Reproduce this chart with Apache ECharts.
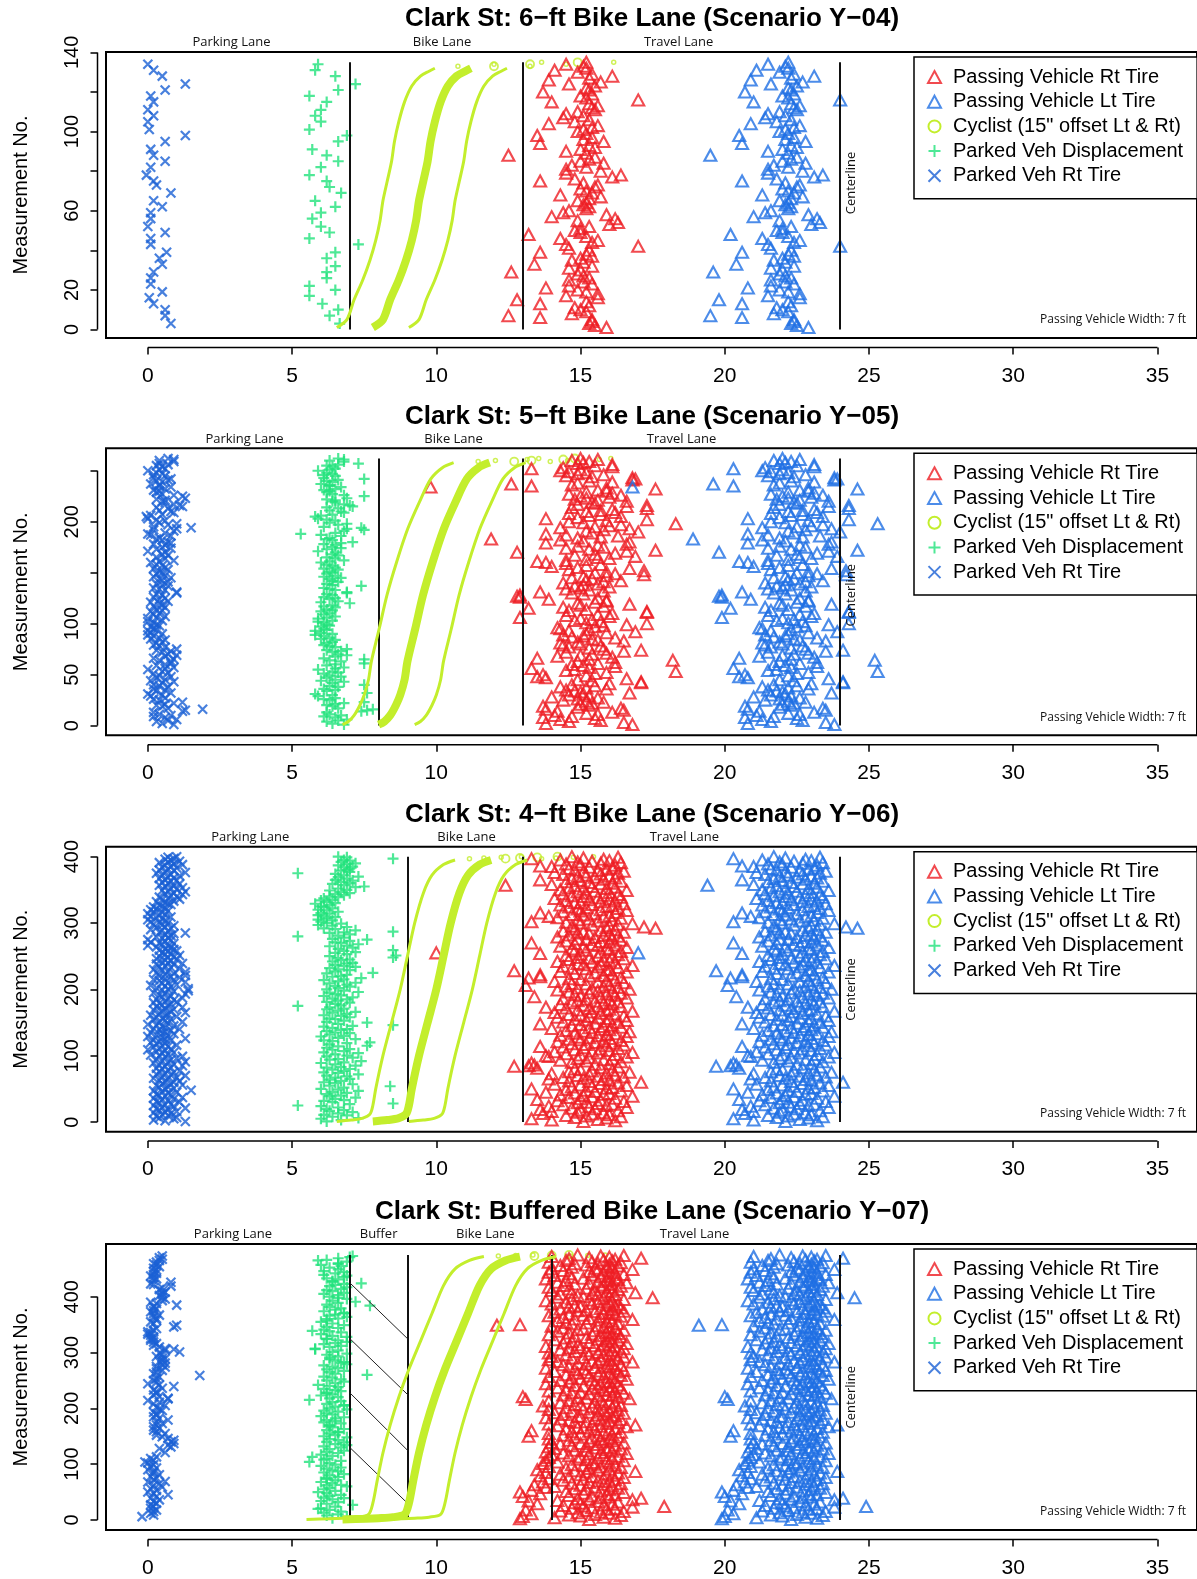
<!DOCTYPE html>
<html>
<head>
<meta charset="utf-8">
<script src="https://cdn.jsdelivr.net/npm/echarts@6/dist/echarts.min.js"></script>
<style>
  html, body { margin: 0; padding: 0; background: #fff; }
  #chart { width: 1197px; height: 1579px; }
</style>
</head>
<body>
<div id="chart"></div>
<script>
const _ = null;

// ---------- shared ticks ----------
const xTicks = [0, 5, 10, 15, 20, 25, 30, 35];

// ---------- Panel 1: 6-ft bike lane (Y-04), one value per measurement no. ----------
const rt1 = [
  15.9,15.5,15.3,15.4,15.4,13.6,12.5,14.7,15.2,15.0,14.8,15.3,13.6,15.2,12.8,
  15.6,14.5,15.6,15.2,14.9,13.8,14.6,15.4,15.1,14.6,15.3,15.1,14.9,12.6,15.0,
  14.6,15.4,13.4,15.1,14.7,15.0,15.4,15.2,13.6,15.3,14.6,17.0,14.5,15.4,15.6,
  14.3,15.2,13.2,15.0,14.8,15.0,15.3,16.0,16.3,14.9,16.2,14.0,15.9,14.4,14.6,
  15.2,15.3,15.1,15.2,14.9,15.3,15.7,14.3,15.4,15.2,15.0,15.5,15.6,15.1,13.6,
  14.8,16.1,16.4,14.5,15.7,14.5,15.2,14.7,15.8,15.0,15.3,15.5,12.5,15.2,14.5,
  15.0,15.5,15.3,13.6,15.8,15.1,15.4,13.5,15.2,14.9,15.1,15.4,15.6,13.9,14.8,
  15.3,14.4,15.1,14.5,14.9,15.5,15.4,15.6,15.3,14.0,17.0,15.2,15.0,15.4,13.7,
  15.3,15.2,15.5,14.6,15.7,13.9,15.3,16.1,15.4,14.9,14.1,15.2,15.1,14.5,15.2
];
const lt1 = [
  22.9,22.5,22.3,22.4,22.4,20.6,19.5,21.7,22.2,22.0,21.8,22.3,20.6,22.2,19.8,
  22.6,21.5,22.6,22.2,21.9,20.8,21.6,22.4,22.1,21.6,22.3,22.1,21.9,19.6,22.0,
  21.6,22.4,20.4,22.1,21.7,22.0,22.4,22.2,20.6,22.3,21.6,24.0,21.5,22.4,22.6,
  21.3,22.2,20.2,22.0,21.8,22.0,22.3,23.0,23.3,21.9,23.2,21.0,22.9,21.4,21.6,
  22.2,22.3,22.1,22.2,21.9,22.3,22.7,21.3,22.4,22.2,22.0,22.5,22.6,22.1,20.6,
  21.8,23.1,23.4,21.5,22.7,21.5,22.2,21.7,22.8,22.0,22.3,22.5,19.5,22.2,21.5,
  22.0,22.5,22.3,20.6,22.8,22.1,22.4,20.5,22.2,21.9,22.1,22.4,22.6,20.9,21.8,
  22.3,21.4,22.1,21.5,21.9,22.5,22.4,22.6,22.3,21.0,24.0,22.2,22.0,22.4,20.7,
  22.3,22.2,22.5,21.6,22.7,20.9,22.3,23.1,22.4,21.9,21.1,22.2,22.1,21.5,22.2
];
const park1 = [
  _,_,0.8,_,_,_,0.6,_,_,0.6,_,_,0.2,_,_,
  0.05,_,_,0.5,_,_,_,0.1,_,_,0.1,_,_,0.2,_,
  _,_,0.5,_,_,0.4,_,_,0.65,_,_,_,0.1,_,_,
  0.1,_,_,0.6,_,_,0.0,_,_,_,0.1,_,_,0.1,_,
  _,0.5,_,_,0.2,_,_,_,0.8,_,_,_,0.3,_,0.2,
  _,_,-0.05,_,_,_,0.1,_,_,0.6,_,_,0.2,_,_,
  0.1,_,_,_,0.6,_,_,1.3,_,_,0.05,_,_,_,0.0,
  _,_,0.2,_,_,0.0,_,_,_,0.2,_,_,0.1,_,_,
  0.6,_,_,1.3,_,_,_,0.5,_,_,0.2,_,_,0.0,_
];
const disp1 = [
  _,_,6.65,_,_,_,6.3,_,_,6.6,_,_,6.05,_,_,
  _,5.6,_,_,6.5,_,5.6,_,_,_,6.2,_,_,6.2,_,
  _,6.5,_,_,_,6.2,_,_,6.5,_,_,_,7.3,_,_,
  5.6,_,_,6.3,_,_,6.0,_,_,_,5.7,_,_,6.0,_,
  _,6.5,_,_,5.8,_,_,_,6.7,_,_,6.3,_,_,6.2,
  _,_,5.6,_,_,_,6.0,_,_,6.6,_,_,6.2,_,_,
  5.7,_,_,_,6.6,_,_,6.9,_,_,5.6,_,_,_,6.0,
  _,_,5.8,_,_,6.0,_,_,_,6.2,_,_,5.6,_,_,
  6.6,_,_,7.2,_,_,_,6.5,_,_,5.8,_,_,5.9,_
];
// cyclist path [ft, measurement no.] and its 15" offsets
const cycC1 = [[7.8,1],[8.15,5],[8.4,15],[8.7,25],[8.95,35],[9.15,45],[9.3,55],[9.4,65],[9.55,75],[9.7,85],[9.8,95],[9.95,105],[10.15,115],[10.4,123],[10.7,128],[11.0,130.5],[11.2,132]];
const cycL1 = [[6.55,1],[6.9,5],[7.15,15],[7.45,25],[7.7,35],[7.9,45],[8.05,55],[8.15,65],[8.3,75],[8.45,85],[8.55,95],[8.7,105],[8.9,115],[9.15,123],[9.45,128],[9.75,130.5],[9.95,132]];
const cycR1 = [[9.05,1],[9.4,5],[9.65,15],[9.95,25],[10.2,35],[10.4,45],[10.55,55],[10.65,65],[10.8,75],[10.95,85],[11.05,95],[11.2,105],[11.4,115],[11.65,123],[11.95,128],[12.25,130.5],[12.45,132]];
const tipC1 = [[12.0,133],[13.25,134],[14.9,135]];
const tipO1 = [[10.75,133],[12.0,134],[13.65,135],[13.25,133],[14.5,134],[16.15,135]];
const lanes1 = [7, 13, 24];
const laneText1 = [['Parking Lane', 2.9], ['Bike Lane', 10.2], ['Travel Lane', 18.4]];
const yTicks1 = [0, 20, 40, 60, 80, 100, 120, 140];
const yLabels1 = [0, 20, 60, 100, 140];

// ---------- Panel 2: 5-ft bike lane (Y-05) ----------
const rt2 = [
  16.8,13.8,16.5,14.6,15.7,14.3,15.5,13.7,14.7,14.1,
  15.6,15.2,16.1,14.2,16.5,13.8,16.4,14.9,13.7,15.3,
  15.0,15.4,15.8,15.2,14.4,14.9,15.6,14.0,15.3,14.6,
  15.1,16.7,15.0,14.8,14.5,15.9,15.2,14.3,15.5,14.7,
  16.0,17.1,17.1,15.4,14.9,16.6,13.8,13.5,15.2,13.7,
  15.5,15.9,18.3,14.5,14.8,13.3,15.3,16.2,15.1,14.7,
  15.6,16.2,14.9,18.2,15.3,13.5,16.1,14.2,15.0,15.4,
  15.9,14.5,16.5,17.1,15.8,15.3,14.6,15.7,14.4,15.0,
  14.3,14.9,16.5,15.6,15.4,16.2,14.7,15.1,14.4,15.2,
  15.9,16.9,14.6,15.3,14.3,14.2,15.5,15.8,16.6,17.3,
  15.2,15.7,14.8,15.4,15.0,12.9,16.0,14.5,15.6,16.1,
  17.3,17.3,14.6,15.2,13.2,14.4,15.8,15.0,16.7,14.9,
  15.5,15.9,15.9,13.9,15.6,12.9,12.8,12.9,15.1,14.7,
  13.6,15.8,15.3,14.5,15.0,16.0,14.8,15.1,15.6,14.4,
  15.8,16.4,15.2,15.4,14.7,15.1,15.9,17.2,16.2,15.5,
  15.9,17.2,14.6,16.7,14.9,14.0,15.2,15.7,14.5,13.8,
  13.5,14.5,15.2,16.0,15.6,16.9,14.8,15.5,16.2,12.8,
  16.6,17.6,15.3,14.5,15.8,14.9,15.6,16.6,13.8,16.7,
  15.1,14.3,11.9,14.9,15.7,16.3,14.5,13.8,15.4,17.0,
  15.2,15.8,16.7,14.3,15.5,16.0,16.4,18.3,15.1,14.6,
  15.9,17.3,13.8,14.9,16.4,15.3,15.7,14.6,16.2,15.2,
  15.7,16.1,17.3,14.7,16.6,17.3,14.9,15.5,15.4,16.6,
  15.6,14.8,15.2,16.0,15.0,16.4,14.6,16.1,15.2,15.9,
  15.6,17.6,15.9,9.8,13.3,14.7,12.6,14.9,16.1,15.3,
  16.8,16.9,16.8,15.4,14.5,15.8,14.9,15.2,14.6,14.3,
  15.0,13.3,14.4,16.1,15.5,16.1,14.9,15.1,15.3,14.7,15.6,15.0
];
const lt2 = [
  23.8,20.8,23.5,21.6,22.7,21.3,22.5,20.7,21.7,21.1,
  22.6,22.2,23.1,21.2,23.5,20.8,23.4,21.9,20.7,22.3,
  22.0,22.4,22.8,22.2,21.4,21.9,22.6,21.0,22.3,21.6,
  22.1,23.7,22.0,21.8,21.5,22.9,22.2,21.3,22.5,21.7,
  23.0,24.1,24.1,22.4,21.9,23.6,20.8,20.5,22.2,20.7,
  22.5,22.9,25.3,21.5,21.8,20.3,22.3,23.2,22.1,21.7,
  22.6,23.2,21.9,25.2,22.3,20.5,23.1,21.2,22.0,22.4,
  22.9,21.5,23.5,24.1,22.8,22.3,21.6,22.7,21.4,22.0,
  21.3,21.9,23.5,22.6,22.4,23.2,21.7,22.1,21.4,22.2,
  22.9,23.9,21.6,22.3,21.3,21.2,22.5,22.8,23.6,24.3,
  22.2,22.7,21.8,22.4,22.0,19.9,23.0,21.5,22.6,23.1,
  24.3,24.3,21.6,22.2,20.2,21.4,22.8,22.0,23.7,21.9,
  22.5,22.9,22.9,20.9,22.6,19.9,19.8,19.9,22.1,21.7,
  20.6,22.8,22.3,21.5,22.0,23.0,21.8,22.1,22.6,21.4,
  22.8,23.4,22.2,22.4,21.7,22.1,22.9,24.2,23.2,22.5,
  22.9,24.2,21.6,23.7,21.9,21.0,22.2,22.7,21.5,20.8,
  20.5,21.5,22.2,23.0,22.6,23.9,21.8,22.5,23.2,19.8,
  23.6,24.6,22.3,21.5,22.8,21.9,22.6,23.6,20.8,23.7,
  22.1,21.3,18.9,21.9,22.7,23.3,21.5,20.8,22.4,24.0,
  22.2,22.8,23.7,21.3,22.5,23.0,23.4,25.3,22.1,21.6,
  22.9,24.3,20.8,21.9,23.4,22.3,22.7,21.6,23.2,22.2,
  22.7,23.1,24.3,21.7,23.6,24.3,21.9,22.5,22.4,23.6,
  22.6,21.8,22.2,23.0,22.0,23.4,21.6,23.1,22.2,22.9,
  22.6,24.6,22.9,16.8,20.3,21.7,19.6,21.9,23.1,22.3,
  23.8,23.9,23.8,22.4,21.5,22.8,21.9,22.2,21.6,21.3,
  22.0,20.3,21.4,23.1,22.5,23.1,21.9,22.1,22.3,21.7,22.6,22.0
];
const park2 = [
  0.9,0.5,_,0.3,0.7,1.0,_,0.6,0.2,0.8,
  0.4,_,0.2,1.2,1.3,1.9,0.7,_,0.5,0.3,
  0.6,0.9,1.2,_,0.4,0.2,0.6,_,0.1,0.5,
  0.0,0.8,_,0.3,0.6,0.2,_,0.7,0.4,0.2,
  _,0.5,0.9,0.1,0.6,_,0.3,0.8,0.4,_,
  0.2,0.7,0.5,_,0.0,0.6,0.9,_,0.3,0.6,
  0.8,_,0.8,0.4,0.9,0.2,_,0.6,1.0,0.7,
  _,0.5,0.8,0.3,1.0,_,0.6,0.4,0.2,_,
  0.3,0.5,_,0.6,0.1,0.4,_,0.2,0.0,0.5,
  0.1,_,0.0,0.3,0.2,_,0.1,0.4,0.3,_,
  0.2,0.0,0.5,_,0.0,0.3,0.6,_,0.2,0.4,
  _,0.1,0.5,0.3,_,0.6,0.2,0.5,_,0.4,
  0.1,0.7,_,0.4,0.6,0.2,_,0.5,0.3,1.0,
  1.0,_,0.6,0.4,0.2,_,0.7,0.5,0.3,_,
  0.7,0.5,_,0.4,0.8,0.2,0.6,_,0.3,0.5,
  0.4,_,0.7,0.2,0.6,_,0.5,0.3,_,0.1,
  0.4,0.9,_,0.6,0.3,_,0.7,0.5,_,0.6,
  0.0,_,0.3,0.8,0.5,_,0.6,0.2,0.8,0.7,
  _,0.5,0.3,0.4,_,0.8,0.1,0.0,0.6,_,
  0.9,0.2,1.0,1.5,0.2,_,0.7,1.0,0.4,_,
  0.6,0.3,0.0,_,-0.05,0.1,0.5,_,0.9,0.8,
  0.4,_,0.7,0.3,1.2,1.1,0.9,_,0.6,0.5,
  0.6,0.3,1.3,_,1.2,0.9,0.5,_,0.3,0.4,
  0.2,0.6,_,0.8,0.4,0.4,0.1,_,0.5,0.3,
  0.7,0.8,0.2,_,0.6,0.2,0.5,0.3,_,0.0,
  0.4,0.6,_,0.5,0.3,0.7,0.4,_,0.9,0.4,0.9,0.7
];
const disp2 = [
  6.8,6.4,_,6.2,6.6,6.9,_,6.5,6.1,6.7,
  6.3,_,6.2,7.4,7.6,7.8,6.6,_,6.4,6.2,
  6.5,6.8,7.5,_,6.3,6.1,6.5,_,5.9,6.4,
  5.8,7.6,_,6.2,6.5,6.1,_,6.6,6.3,7.5,
  _,6.4,6.8,6.0,6.5,_,6.2,6.7,6.3,_,
  6.1,6.6,6.4,_,5.9,6.5,6.8,_,6.2,6.5,
  7.5,_,6.7,6.3,7.5,6.1,_,6.5,6.9,6.6,
  _,6.4,6.7,6.2,6.9,_,6.5,6.3,6.1,_,
  6.2,6.4,_,6.5,6.0,6.3,_,6.1,5.8,6.4,
  6.0,_,5.8,6.2,6.1,_,6.0,6.3,6.2,_,
  6.1,5.9,6.4,_,5.9,6.2,6.5,_,6.1,6.3,
  _,6.0,6.4,6.2,_,6.5,6.1,6.4,_,7.0,
  6.0,6.6,_,6.3,6.5,6.1,_,6.4,6.2,6.9,
  6.9,_,6.5,6.3,6.1,_,7.4,6.4,6.2,_,
  6.6,6.4,_,6.3,6.7,6.1,6.5,_,6.2,6.4,
  6.3,_,6.6,6.1,6.5,_,6.4,6.2,_,6.0,
  6.3,6.8,_,6.5,6.2,_,6.6,6.4,_,6.5,
  5.9,_,6.2,6.7,6.4,_,6.5,6.1,6.7,7.1,
  _,6.4,6.2,6.3,_,6.7,6.0,5.3,6.5,_,
  6.8,7.5,6.9,7.4,6.1,_,6.6,6.9,6.3,_,
  6.5,6.2,5.9,_,5.8,6.0,6.4,_,6.8,6.7,
  6.3,_,6.6,6.2,7.1,7.0,6.8,_,6.5,6.4,
  6.5,6.2,6.9,_,7.5,6.8,6.4,_,6.2,6.3,
  6.1,6.5,_,6.7,6.3,6.3,6.0,_,6.4,6.2,
  6.6,7.5,6.1,_,6.5,6.1,6.4,6.2,_,5.9,
  6.3,6.5,_,6.4,6.2,6.6,7.3,_,6.8,6.3,6.8,6.6
];
const cycC2 = [[8.0,1],[8.2,4],[8.4,10],[8.6,20],[8.75,30],[8.9,45],[9.0,63],[9.27,95],[9.54,128],[9.87,160],[10.26,193],[10.66,219],[11.06,242],[11.46,253],[11.85,258]];
const cycL2 = [[6.75,1],[6.95,4],[7.15,10],[7.35,20],[7.5,30],[7.65,45],[7.75,63],[8.02,95],[8.29,128],[8.62,160],[9.01,193],[9.41,219],[9.81,242],[10.21,253],[10.6,258]];
const cycR2 = [[9.25,1],[9.45,4],[9.65,10],[9.85,20],[10.0,30],[10.15,45],[10.25,63],[10.52,95],[10.79,128],[11.12,160],[11.51,193],[11.91,219],[12.31,242],[12.71,253],[13.1,258]];
const tipC2 = [[12.7,259],[13.3,260],[14.4,261],[14.8,262]];
const tipO2 = [[11.45,259],[12.05,260],[13.15,261],[13.55,262],[13.95,259],[14.55,260],[15.65,261],[16.05,262]];
const lanes2 = [8, 13, 24];
const laneText2 = [['Parking Lane', 3.35], ['Bike Lane', 10.6], ['Travel Lane', 18.5]];
const yTicks2 = [0, 50, 100, 150, 200, 250];
const yLabels2 = [0, 50, 100, 200];

// ---------- Panel 3: 4-ft bike lane (Y-06) ----------
const rt3 = [
  15.1,16.2,14.0,15.6,13.3,15.9,14.8,16.4,15.2,14.5,16.0,15.4,13.7,15.8,14.9,14.0,16.3,15.0,13.6,15.5,
  14.7,16.6,15.3,13.9,15.9,14.4,16.1,15.6,14.9,15.2,16.5,14.2,15.7,13.5,15.0,16.2,14.6,15.4,16.8,15.1,
  14.3,15.8,16.0,14.8,13.8,15.5,16.4,15.2,14.5,13.3,15.9,16.1,14.7,15.4,16.6,15.0,14.1,15.7,16.3,17.1,
  15.3,14.6,16.0,15.8,13.9,15.1,14.4,16.5,15.6,14.9,16.2,15.3,14.0,15.9,16.7,14.6,15.4,16.1,15.0,14.8,
  13.5,15.7,16.3,12.7,13.2,13.4,15.5,16.0,13.3,14.7,16.4,15.2,14.3,15.8,16.1,14.9,15.3,16.6,13.9,13.8,
  15.0,16.2,14.5,15.6,16.8,14.1,15.4,16.0,14.8,15.7,16.3,15.1,14.4,13.6,15.9,16.5,15.2,14.7,16.1,15.5,
  14.2,15.8,16.4,15.0,14.6,16.0,15.3,14.9,16.6,15.6,14.3,15.9,16.2,14.8,15.4,16.7,15.1,14.5,16.0,15.7,
  14.0,15.3,16.4,15.8,14.7,16.1,15.0,13.6,15.5,16.3,14.4,15.9,16.6,15.2,14.8,16.0,15.6,14.2,15.3,16.5,
  15.0,14.6,16.2,15.7,14.1,15.4,16.8,15.9,14.9,16.0,15.3,14.5,13.8,16.4,15.6,15.1,14.3,16.1,15.8,14.7,
  16.3,15.5,14.9,16.0,15.2,14.4,16.6,15.7,13.4,15.0,16.2,14.8,15.9,16.4,15.3,14.6,16.1,15.6,14.2,16.7,
  15.4,14.9,16.3,15.8,14.5,13.1,16.0,15.2,14.7,16.5,15.6,14.1,15.9,16.2,15.0,14.6,13.2,16.4,13.6,15.3,
  15.8,13.6,16.1,14.8,15.5,16.6,14.3,12.7,15.9,16.0,15.2,14.7,16.3,15.6,14.4,16.8,15.1,15.7,14.9,16.2,
  15.4,14.2,16.0,15.8,14.6,16.5,15.3,14.9,16.1,15.6,14.5,16.3,15.0,13.6,10.0,15.7,16.4,14.8,15.2,16.0,
  14.7,15.9,16.6,15.1,14.3,15.6,16.2,15.4,14.8,13.3,16.0,15.7,14.5,16.4,15.2,14.9,16.1,15.5,14.2,16.3,
  15.8,14.6,16.0,15.3,14.9,16.5,15.1,14.4,15.7,16.2,14.8,17.6,15.9,17.2,14.7,16.0,15.4,16.3,16.8,15.0,
  14.5,13.3,15.6,16.1,14.9,15.3,16.4,14.2,15.8,13.9,16.0,15.1,14.7,15.5,13.6,16.2,14.4,15.0,16.6,15.7,
  14.9,16.3,15.2,14.6,15.9,16.1,14.3,15.4,16.5,15.0,14.8,15.7,16.2,14.5,15.3,16.0,14.1,15.6,16.4,15.1,
  14.7,15.8,16.3,14.4,15.2,16.0,14.9,15.5,16.6,14.3,15.1,15.9,14.6,16.2,15.4,14.8,12.4,14.0,15.7,16.1,
  15.3,14.5,16.4,15.0,13.6,15.8,14.7,16.2,15.5,14.9,16.0,15.2,14.4,15.7,16.3,14.1,15.1,16.5,15.6,14.8,
  15.9,14.6,16.1,15.3,14.0,13.6,16.2,15.0,14.5,15.7,16.4,14.9,15.4,16.0,14.3,15.8,13.3,15.1,16.3,14.7
];
const lt3 = [
  22.1,23.2,21.0,22.6,20.3,22.9,21.8,23.4,22.2,21.5,23.0,22.4,20.7,22.8,21.9,21.0,23.3,22.0,20.6,22.5,
  21.7,23.6,22.3,20.9,22.9,21.4,23.1,22.6,21.9,22.2,23.5,21.2,22.7,20.5,22.0,23.2,21.6,22.4,23.8,22.1,
  21.3,22.8,23.0,21.8,20.8,22.5,23.4,22.2,21.5,20.3,22.9,23.1,21.7,22.4,23.6,22.0,21.1,22.7,23.3,24.1,
  22.3,21.6,23.0,22.8,20.9,22.1,21.4,23.5,22.6,21.9,23.2,22.3,21.0,22.9,23.7,21.6,22.4,23.1,22.0,21.8,
  20.5,22.7,23.3,19.7,20.2,20.4,22.5,23.0,20.3,21.7,23.4,22.2,21.3,22.8,23.1,21.9,22.3,23.6,20.9,20.8,
  22.0,23.2,21.5,22.6,23.8,21.1,22.4,23.0,21.8,22.7,23.3,22.1,21.4,20.6,22.9,23.5,22.2,21.7,23.1,22.5,
  21.2,22.8,23.4,22.0,21.6,23.0,22.3,21.9,23.6,22.6,21.3,22.9,23.2,21.8,22.4,23.7,22.1,21.5,23.0,22.7,
  21.0,22.3,23.4,22.8,21.7,23.1,22.0,20.6,22.5,23.3,21.4,22.9,23.6,22.2,21.8,23.0,22.6,21.2,22.3,23.5,
  22.0,21.6,23.2,22.7,21.1,22.4,23.8,22.9,21.9,23.0,22.3,21.5,20.8,23.4,22.6,22.1,21.3,23.1,22.8,21.7,
  23.3,22.5,21.9,23.0,22.2,21.4,23.6,22.7,20.4,22.0,23.2,21.8,22.9,23.4,22.3,21.6,23.1,22.6,21.2,23.7,
  22.4,21.9,23.3,22.8,21.5,20.1,23.0,22.2,21.7,23.5,22.6,21.1,22.9,23.2,22.0,21.6,20.2,23.4,20.6,22.3,
  22.8,20.6,23.1,21.8,22.5,23.6,21.3,19.7,22.9,23.0,22.2,21.7,23.3,22.6,21.4,23.8,22.1,22.7,21.9,23.2,
  22.4,21.2,23.0,22.8,21.6,23.5,22.3,21.9,23.1,22.6,21.5,23.3,22.0,20.6,17.0,22.7,23.4,21.8,22.2,23.0,
  21.7,22.9,23.6,22.1,21.3,22.6,23.2,22.4,21.8,20.3,23.0,22.7,21.5,23.4,22.2,21.9,23.1,22.5,21.2,23.3,
  22.8,21.6,23.0,22.3,21.9,23.5,22.1,21.4,22.7,23.2,21.8,24.6,22.9,24.2,21.7,23.0,22.4,23.3,23.8,22.0,
  21.5,20.3,22.6,23.1,21.9,22.3,23.4,21.2,22.8,20.9,23.0,22.1,21.7,22.5,20.6,23.2,21.4,22.0,23.6,22.7,
  21.9,23.3,22.2,21.6,22.9,23.1,21.3,22.4,23.5,22.0,21.8,22.7,23.2,21.5,22.3,23.0,21.1,22.6,23.4,22.1,
  21.7,22.8,23.3,21.4,22.2,23.0,21.9,22.5,23.6,21.3,22.1,22.9,21.6,23.2,22.4,21.8,19.4,21.0,22.7,23.1,
  22.3,21.5,23.4,22.0,20.6,22.8,21.7,23.2,22.5,21.9,23.0,22.2,21.4,22.7,23.3,21.1,22.1,23.5,22.6,21.8,
  22.9,21.6,23.1,22.3,21.0,20.6,23.2,22.0,21.5,22.7,23.4,21.9,22.4,23.0,21.3,22.8,20.3,22.1,23.3,21.7
];
const park3 = [
  1.3,0.6,0.2,_,0.9,0.4,1.0,_,0.3,0.7,0.5,_,0.8,0.2,0.6,1.0,_,0.4,0.7,0.3,
  1.3,0.5,_,0.9,0.2,0.6,0.8,_,0.4,1.1,0.3,0.7,_,0.5,0.9,0.2,1.2,_,0.6,0.4,
  0.8,0.3,_,0.7,1.0,0.5,0.2,1.5,_,0.6,0.9,0.4,0.7,_,0.3,1.2,0.8,0.5,_,0.9,
  0.6,1.1,0.4,_,0.7,0.2,1.0,0.5,_,1.3,0.8,0.3,0.6,_,0.9,0.4,1.1,0.7,_,0.5,
  0.3,0.8,_,0.6,1.2,0.4,0.9,_,0.2,0.7,1.3,0.5,_,0.8,0.3,1.0,_,0.6,1.2,0.4,
  0.1,0.7,_,0.5,0.9,0.3,_,0.6,0.0,0.8,0.4,_,0.2,0.7,0.5,1.0,_,0.3,0.6,0.1,
  0.4,_,0.8,0.2,0.6,1.3,_,0.5,0.0,0.7,0.3,_,0.9,0.5,0.1,0.6,_,0.8,0.4,1.1,
  0.2,0.6,_,0.5,0.9,0.3,0.0,_,0.7,0.4,1.2,_,0.6,0.2,0.8,0.5,_,0.3,1.0,0.6,
  0.1,_,0.7,0.4,1.3,0.8,_,0.5,0.2,0.9,0.6,_,1.2,0.3,0.7,0.5,_,0.8,0.4,0.2,
  1.0,0.6,_,0.9,0.3,0.7,1.2,_,0.5,0.8,0.4,_,1.3,0.6,0.2,_,0.9,1.4,0.5,0.7,
  1.4,0.3,_,0.8,0.6,0.1,1.0,_,0.5,0.7,1.3,_,0.4,0.9,0.2,0.6,_,1.1,0.8,0.4,
  1.3,0.6,_,0.9,0.3,1.3,0.7,_,0.5,0.2,1.1,_,0.8,0.4,0.6,_,0.9,0.3,1.2,0.7,
  0.5,_,0.8,0.6,1.0,0.3,_,0.7,0.9,0.4,1.1,_,0.6,0.8,0.5,_,0.7,1.0,0.4,0.9,
  0.6,_,0.8,0.3,0.7,0.0,_,0.5,0.9,0.4,0.1,_,0.6,0.8,0.0,_,0.5,0.7,0.3,_,
  0.8,0.6,_,0.9,1.3,0.4,_,0.7,0.5,0.1,_,0.8,0.3,0.6,_,0.9,0.5,0.2,_,0.7,
  0.4,0.1,_,0.6,0.0,0.5,_,0.3,0.8,0.1,_,0.4,0.6,0.0,_,0.5,0.2,0.7,_,0.1,
  0.3,_,0.6,0.2,0.5,_,0.4,0.8,0.7,_,0.6,0.3,0.9,_,0.5,1.1,0.7,_,0.4,1.0,
  0.8,_,1.2,0.6,0.9,_,1.3,0.7,0.5,_,1.0,0.8,1.2,_,0.6,0.9,0.4,_,1.1,0.7,
  0.5,_,0.8,1.0,0.6,_,0.4,0.9,0.7,_,1.1,0.5,0.8,_,0.3,1.3,0.6,_,0.9,0.4,
  0.7,_,1.0,0.5,0.8,_,0.6,1.2,0.9,_,0.4,0.7,1.1,_,0.8,0.6,0.9,_,0.7,1.0
];
const disp3 = [
  6.2,_,6.7,_,6.0,7.3,_,6.4,_,6.9,6.1,_,6.6,_,7.1,_,6.3,6.8,_,6.2,
  _,6.6,_,6.0,5.2,_,7.0,8.5,_,6.4,_,6.1,6.8,_,6.5,_,7.2,_,6.3,6.7,
  _,6.2,_,6.9,6.4,_,7.3,_,6.6,6.0,_,6.8,_,8.4,6.3,_,7.1,_,6.5,6.1,
  _,6.7,_,6.3,7.0,_,6.5,_,6.9,6.2,_,7.3,_,6.6,6.1,_,6.8,_,6.4,7.0,
  _,6.2,6.7,_,7.2,_,6.5,_,6.0,6.8,_,7.4,_,6.3,6.6,_,7.1,_,6.2,6.9,
  _,6.5,_,7.3,6.1,_,6.8,_,6.4,7.0,_,6.2,_,6.6,7.6,_,6.3,_,6.9,7.7,
  _,6.4,6.1,_,7.2,_,6.6,_,6.0,6.8,_,6.3,_,7.0,6.5,_,6.2,_,6.7,6.9,
  _,6.4,_,6.1,7.1,8.5,_,6.6,_,7.6,6.2,_,6.8,_,6.5,6.3,_,7.0,_,6.7,
  6.1,_,6.9,_,6.4,7.2,_,6.6,_,6.2,6.8,_,6.3,_,5.2,6.7,_,6.5,_,7.0,
  6.2,_,6.6,_,6.9,6.4,_,7.1,_,6.1,6.7,_,6.5,_,6.3,7.3,_,6.8,_,6.2,
  _,6.6,_,7.0,6.5,_,6.9,_,6.3,7.2,_,6.6,_,6.1,6.8,_,7.4,_,6.4,6.7,
  _,6.9,_,6.2,7.8,_,6.5,_,7.0,6.6,_,6.3,_,7.2,6.8,_,6.5,_,6.9,7.1,
  _,6.4,_,6.7,7.0,_,6.6,8.5,_,6.3,8.6,_,6.9,_,6.5,7.2,_,6.8,8.5,_,
  6.6,_,7.1,_,6.3,6.9,_,7.3,_,6.7,6.5,_,7.0,_,7.6,6.4,_,6.8,_,5.2,
  6.6,_,7.0,_,6.3,6.8,8.5,_,7.2,_,6.5,6.1,_,6.9,_,6.4,5.9,_,6.7,6.2,
  _,6.0,_,6.4,5.9,_,6.2,_,6.5,6.1,_,5.9,_,6.3,6.0,_,6.6,_,6.2,5.9,
  _,6.4,_,6.1,6.0,_,6.3,_,5.8,6.5,_,6.2,_,6.0,6.4,_,6.1,_,6.6,6.3,
  _,6.8,_,6.5,7.0,_,6.7,_,6.3,6.9,_,6.6,_,7.2,7.5,_,6.8,_,6.4,7.0,
  _,6.7,_,7.1,6.5,_,6.9,_,6.6,7.3,_,6.8,_,6.5,5.2,_,7.0,_,6.7,6.9,
  _,7.0,_,6.8,7.1,_,6.6,_,6.9,7.2,_,6.7,_,7.0,6.8,_,8.5,_,6.9,6.6
];
const cycC3 = [[7.8,1],[8.3,3],[8.7,6],[8.95,12],[9.05,25],[9.15,50],[9.4,100],[9.7,150],[10.0,200],[10.25,250],[10.5,300],[10.8,345],[11.1,372],[11.5,388],[11.9,395]];
const cycL3 = [[6.55,1],[7.05,3],[7.45,6],[7.7,12],[7.8,25],[7.9,50],[8.15,100],[8.45,150],[8.75,200],[9.0,250],[9.25,300],[9.55,345],[9.85,372],[10.25,388],[10.65,395]];
const cycR3 = [[9.05,1],[9.55,3],[9.95,6],[10.2,12],[10.3,25],[10.4,50],[10.65,100],[10.95,150],[11.25,200],[11.5,250],[11.75,300],[12.05,345],[12.35,372],[12.75,388],[13.15,395]];
const tipC3 = [[12.4,397],[12.9,398],[13.5,399],[14.2,400]];
const tipO3 = [[11.15,397],[11.65,398],[12.25,399],[12.95,400],[13.65,397],[14.15,398],[14.75,399],[15.45,400]];
const lanes3 = [9, 13, 24];
const laneText3 = [['Parking Lane', 3.55], ['Bike Lane', 11.05], ['Travel Lane', 18.6]];
const yTicks3 = [0, 100, 200, 300, 400];
const yLabels3 = [0, 100, 200, 300, 400];

// ---------- Panel 4: buffered bike lane (Y-07) ----------
const rt4 = [
  15.3,12.9,16.2,14.1,15.8,13.0,15.0,16.4,14.6,15.5,13.3,16.0,14.9,15.7,16.5,14.3,15.2,13.1,15.9,16.2,14.7,15.4,16.8,17.9,15.1,
  14.4,15.8,16.1,13.5,15.0,14.8,16.3,15.6,13.2,14.2,16.8,15.3,14.9,17.1,15.7,16.0,13.0,15.4,14.6,16.2,15.9,13.6,15.1,16.5,12.9,
  14.5,15.7,13.3,16.0,15.2,14.8,16.3,13.8,15.5,14.1,16.1,15.0,13.4,15.8,16.4,14.7,15.3,13.7,16.0,15.6,14.4,16.2,15.1,13.9,15.8,
  16.5,14.6,15.4,13.6,16.1,15.0,14.3,15.9,16.3,13.8,15.2,16.9,14.8,15.6,13.5,16.0,15.3,14.5,16.4,15.7,13.9,15.1,16.2,14.7,15.5,
  13.7,16.0,15.4,14.2,15.9,16.5,13.8,15.2,14.9,16.1,15.6,13.9,15.0,16.3,14.6,15.8,14.0,15.3,16.6,14.4,15.7,13.8,16.1,15.2,14.8,
  15.9,16.4,14.1,15.5,16.0,13.9,15.2,14.7,16.2,15.6,14.3,15.0,16.5,14.0,15.8,15.3,16.1,14.6,15.7,13.9,16.0,15.4,14.8,16.3,13.2,
  15.6,14.4,16.1,15.0,13.9,15.8,16.4,14.7,15.3,13.3,16.0,15.5,14.5,16.2,15.1,14.9,16.6,15.7,14.2,16.9,15.4,13.9,15.9,16.3,14.8,
  15.2,16.0,14.6,15.7,16.4,14.3,15.5,13.8,16.1,15.0,14.9,16.2,15.6,14.4,15.9,16.5,14.1,15.3,16.0,14.7,15.8,16.3,13.9,15.1,15.6,
  14.5,16.1,15.4,13.7,16.4,15.0,14.8,15.8,16.2,14.3,15.5,16.0,13.9,14.6,15.7,13.1,16.7,15.2,14.9,16.3,13.0,15.6,16.1,14.4,15.9,
  15.3,16.5,14.7,15.0,16.2,13.9,15.8,14.5,16.0,15.4,16.4,14.2,15.6,16.1,15.1,14.8,16.3,15.7,13.8,15.5,16.0,14.6,15.9,16.2,14.3,
  15.4,16.6,15.0,14.7,16.1,15.8,13.9,15.3,16.4,14.5,15.6,16.0,14.9,15.2,16.3,14.1,15.7,16.5,14.8,15.1,16.2,13.8,15.5,16.0,14.6,
  15.9,16.4,14.4,15.2,16.1,14.9,15.6,16.8,14.2,15.4,16.0,13.9,15.7,16.3,14.7,15.1,16.5,14.0,15.8,16.2,14.5,15.3,16.0,13.9,15.6,
  16.4,14.8,15.2,16.1,14.3,15.7,16.5,14.6,15.0,16.2,13.8,15.5,16.0,14.9,15.8,16.6,14.4,15.3,16.1,14.7,15.9,16.3,14.1,15.6,16.0,
  14.5,15.2,16.4,14.8,15.7,16.1,13.9,15.4,16.3,14.6,15.9,16.0,14.2,15.5,16.5,14.9,15.1,16.2,14.4,15.8,16.0,14.0,15.6,12.1,12.9,
  14.7,16.3,15.2,14.5,15.9,16.1,14.2,15.6,16.8,14.8,15.3,16.0,14.4,15.7,16.4,13.9,15.1,16.2,14.6,15.8,16.0,14.1,15.5,16.5,14.9,
  15.2,16.1,14.3,15.7,16.4,14.6,15.0,16.2,14.8,15.9,16.3,14.0,15.4,16.0,14.5,15.6,16.1,13.8,15.3,16.5,14.7,15.8,17.5,14.2,15.1,
  16.0,14.9,15.6,16.2,14.3,15.4,16.9,14.7,15.9,16.1,14.0,15.5,16.3,14.6,15.2,16.0,13.9,15.7,16.4,14.4,15.8,16.1,14.8,15.3,16.6,
  14.2,15.6,16.0,14.5,15.9,16.3,13.8,15.1,16.2,14.7,15.7,16.0,14.1,15.4,16.5,14.6,15.8,16.2,13.9,15.3,16.0,14.4,15.6,16.8,14.0,
  15.5,16.1,14.7,15.9,16.3,14.3,15.2,16.0,14.8,15.6,16.4,13.9,15.4,16.1,14.5,15.8,16.2,14.6,17.1,15.3,16.0,14.0,15.7,16.5,14.9
];
const lt4 = [
  22.3,19.9,23.2,21.1,22.8,20.0,22.0,23.4,21.6,22.5,20.3,23.0,21.9,22.7,23.5,21.3,22.2,20.1,22.9,23.2,21.7,22.4,23.8,24.9,22.1,
  21.4,22.8,23.1,20.5,22.0,21.8,23.3,22.6,20.2,21.2,23.8,22.3,21.9,24.1,22.7,23.0,20.0,22.4,21.6,23.2,22.9,20.6,22.1,23.5,19.9,
  21.5,22.7,20.3,23.0,22.2,21.8,23.3,20.8,22.5,21.1,23.1,22.0,20.4,22.8,23.4,21.7,22.3,20.7,23.0,22.6,21.4,23.2,22.1,20.9,22.8,
  23.5,21.6,22.4,20.6,23.1,22.0,21.3,22.9,23.3,20.8,22.2,23.9,21.8,22.6,20.5,23.0,22.3,21.5,23.4,22.7,20.9,22.1,23.2,21.7,22.5,
  20.7,23.0,22.4,21.2,22.9,23.5,20.8,22.2,21.9,23.1,22.6,20.9,22.0,23.3,21.6,22.8,21.0,22.3,23.6,21.4,22.7,20.8,23.1,22.2,21.8,
  22.9,23.4,21.1,22.5,23.0,20.9,22.2,21.7,23.2,22.6,21.3,22.0,23.5,21.0,22.8,22.3,23.1,21.6,22.7,20.9,23.0,22.4,21.8,23.3,20.2,
  22.6,21.4,23.1,22.0,20.9,22.8,23.4,21.7,22.3,20.3,23.0,22.5,21.5,23.2,22.1,21.9,23.6,22.7,21.2,23.9,22.4,20.9,22.9,23.3,21.8,
  22.2,23.0,21.6,22.7,23.4,21.3,22.5,20.8,23.1,22.0,21.9,23.2,22.6,21.4,22.9,23.5,21.1,22.3,23.0,21.7,22.8,23.3,20.9,22.1,22.6,
  21.5,23.1,22.4,20.7,23.4,22.0,21.8,22.8,23.2,21.3,22.5,23.0,20.9,21.6,22.7,20.1,23.7,22.2,21.9,23.3,20.0,22.6,23.1,21.4,22.9,
  22.3,23.5,21.7,22.0,23.2,20.9,22.8,21.5,23.0,22.4,23.4,21.2,22.6,23.1,22.1,21.8,23.3,22.7,20.8,22.5,23.0,21.6,22.9,23.2,21.3,
  22.4,23.6,22.0,21.7,23.1,22.8,20.9,22.3,23.4,21.5,22.6,23.0,21.9,22.2,23.3,21.1,22.7,23.5,21.8,22.1,23.2,20.8,22.5,23.0,21.6,
  22.9,23.4,21.4,22.2,23.1,21.9,22.6,23.8,21.2,22.4,23.0,20.9,22.7,23.3,21.7,22.1,23.5,21.0,22.8,23.2,21.5,22.3,23.0,20.9,22.6,
  23.4,21.8,22.2,23.1,21.3,22.7,23.5,21.6,22.0,23.2,20.8,22.5,23.0,21.9,22.8,23.6,21.4,22.3,23.1,21.7,22.9,23.3,21.1,22.6,23.0,
  21.5,22.2,23.4,21.8,22.7,23.1,20.9,22.4,23.3,21.6,22.9,23.0,21.2,22.5,23.5,21.9,22.1,23.2,21.4,22.8,23.0,21.0,22.6,19.1,19.9,
  21.7,23.3,22.2,21.5,22.9,23.1,21.2,22.6,23.8,21.8,22.3,23.0,21.4,22.7,23.4,20.9,22.1,23.2,21.6,22.8,23.0,21.1,22.5,23.5,21.9,
  22.2,23.1,21.3,22.7,23.4,21.6,22.0,23.2,21.8,22.9,23.3,21.0,22.4,23.0,21.5,22.6,23.1,20.8,22.3,23.5,21.7,22.8,24.5,21.2,22.1,
  23.0,21.9,22.6,23.2,21.3,22.4,23.9,21.7,22.9,23.1,21.0,22.5,23.3,21.6,22.2,23.0,20.9,22.7,23.4,21.4,22.8,23.1,21.8,22.3,23.6,
  21.2,22.6,23.0,21.5,22.9,23.3,20.8,22.1,23.2,21.7,22.7,23.0,21.1,22.4,23.5,21.6,22.8,23.2,20.9,22.3,23.0,21.4,22.6,23.8,21.0,
  22.5,23.1,21.7,22.9,23.3,21.3,22.2,23.0,21.8,22.6,23.4,20.9,22.4,23.1,21.5,22.8,23.2,21.6,24.1,22.3,23.0,21.0,22.7,23.5,21.9
];
const park4 = [
  _,_,_,_,_,-0.2,_,_,0.2,_,_,0.1,_,_,0.2,_,_,0.3,_,_,0.1,_,_,0.2,_,
  _,0.1,_,_,0.3,_,_,0.2,_,_,0.4,_,_,0.1,_,_,0.3,_,_,0.7,_,_,0.2,_,0.0,
  _,_,0.3,_,_,0.1,_,_,0.5,_,_,0.2,_,_,0.4,_,_,0.0,0.6,_,_,0.2,_,_,0.3,
  _,_,0.1,_,_,0.4,_,_,0.2,_,_,0.2,_,_,0.0,_,_,0.3,_,_,0.1,_,_,0.2,_,
  _,0.0,_,-0.1,_,_,0.2,_,_,0.1,_,_,0.3,_,_,_,_,_,_,_,0.6,_,_,_,_,
  _,_,0.4,_,_,0.8,_,_,0.7,_,_,0.9,_,_,0.8,_,_,0.9,_,_,0.7,_,_,0.5,_,
  _,0.3,_,_,0.6,_,_,0.3,_,_,0.2,_,_,0.4,_,_,0.2,_,_,0.3,_,_,0.5,_,_,
  0.3,_,_,0.7,_,_,0.4,_,_,0.2,_,_,0.3,_,0.3,_,_,0.2,_,_,0.5,_,_,0.4,_,
  _,0.3,_,_,0.6,_,_,0.2,_,_,0.4,_,_,0.0,_,_,0.7,0.7,_,_,0.4,_,_,0.2,_,
  _,0.3,_,_,0.3,_,_,0.2,_,_,0.5,_,_,0.9,_,_,0.4,_,0.0,_,_,0.3,_,_,0.2,
  _,_,0.3,_,_,0.4,_,_,1.8,_,_,0.2,_,_,0.3,_,_,0.5,_,_,0.3,_,_,0.6,0.3,
  _,_,0.5,_,_,0.6,_,_,0.4,_,0.5,_,_,0.6,0.5,_,_,0.3,_,_,0.5,_,_,0.4,_,
  1.1,_,_,0.6,_,0.9,0.6,_,_,0.4,_,_,0.2,_,_,0.3,_,_,0.2,_,_,0.1,_,0.2,0.1,
  _,_,0.2,_,_,0.1,_,0.0,_,_,0.1,0.0,_,_,0.2,_,_,0.3,_,_,0.9,_,_,1.0,_,
  _,0.2,_,_,0.1,_,_,0.3,_,_,0.3,_,_,0.2,_,_,0.4,_,_,0.2,_,_,0.1,_,0.2,
  _,_,0.3,_,_,0.2,_,0.2,_,1.0,_,_,0.3,_,0.1,_,_,0.5,_,_,0.6,_,_,0.5,_,
  _,0.4,_,_,0.5,_,_,0.6,_,0.5,_,_,0.4,_,_,0.5,_,_,0.8,_,_,0.2,0.1,_,_,
  0.8,_,_,0.2,_,_,0.3,_,0.2,_,_,0.1,_,_,0.2,_,0.3,_,_,0.2,_,_,0.3,_,_,
  0.2,_,_,0.4,_,_,0.3,_,0.2,_,_,0.3,_,_,0.4,_,0.5,_,_,0.4,_,_,0.5,_,_
];
const disp4 = [
  _,_,6.4,_,_,6.9,_,6.2,_,6.6,_,_,6.1,_,6.7,_,_,6.3,_,5.9,6.0,_,_,6.5,_,
  _,7.1,_,6.2,_,_,6.6,_,6.0,_,_,6.4,_,6.8,6.1,_,_,6.3,_,6.7,_,_,6.2,_,5.9,
  _,6.5,_,_,6.1,_,6.3,_,_,6.9,_,6.2,6.7,_,_,6.4,_,6.0,_,_,6.5,_,6.2,_,6.2,
  _,6.6,_,_,6.3,_,6.8,_,_,6.1,_,6.6,_,6.4,_,_,6.2,_,6.7,_,_,6.0,_,6.5,_,
  _,6.3,_,5.6,_,6.7,_,6.1,_,6.2,_,_,5.7,_,6.4,_,6.0,_,_,6.6,_,6.2,_,6.8,_,
  _,6.3,_,_,6.7,_,6.1,_,6.9,_,6.5,_,_,6.8,6.2,_,_,6.6,_,6.3,_,_,6.9,_,6.1,
  _,6.5,_,_,6.3,_,6.6,6.6,_,_,6.2,_,6.8,_,_,6.4,_,6.3,_,6.3,_,_,6.7,_,6.1,
  _,6.5,_,6.2,_,_,6.5,_,6.8,_,6.0,_,_,6.4,_,6.2,_,_,6.6,_,6.1,_,6.9,_,6.3,
  _,_,6.5,_,6.8,6.8,_,6.2,_,_,6.4,_,6.7,_,5.6,_,_,6.3,_,6.6,_,_,6.0,_,6.4,
  _,6.2,6.2,_,_,6.7,_,6.5,_,6.1,_,_,6.6,_,6.3,_,5.9,_,_,6.5,_,_,6.8,_,6.2,
  _,6.7,_,_,6.4,_,6.1,_,_,7.6,_,6.5,_,_,6.3,_,6.8,_,_,6.2,_,6.6,_,_,6.4,
  _,6.1,_,6.9,_,_,6.7,6.8,_,_,6.5,_,6.3,_,_,6.3,_,6.6,_,_,6.2,_,6.9,_,_,
  6.4,_,_,6.6,_,5.8,5.8,_,_,6.3,_,6.7,_,_,6.1,_,6.5,_,6.9,_,_,6.6,_,6.2,6.2,
  _,_,6.9,_,6.4,_,_,6.0,_,_,6.7,_,6.3,5.7,_,6.1,_,_,6.6,_,6.2,_,_,6.8,_,
  _,6.4,_,_,6.0,_,6.2,_,_,6.2,6.6,_,_,6.9,_,6.3,_,6.5,_,6.8,6.8,_,_,6.1,_,
  _,6.5,_,6.7,_,_,6.3,_,7.7,_,6.2,_,_,6.6,_,7.2,_,6.4,_,_,6.9,_,6.6,_,6.3,
  _,_,6.6,_,6.1,_,6.8,_,_,6.4,_,6.2,_,6.7,_,_,6.9,_,6.3,_,6.5,_,6.8,7.4,_,
  _,6.4,6.4,_,_,6.6,_,6.2,_,6.8,_,_,6.9,6.1,_,_,6.5,_,6.8,_,6.1,_,_,6.6,_,
  _,6.3,_,_,6.7,_,6.0,_,6.6,6.6,_,_,6.9,_,5.9,6.2,_,_,6.6,_,7.0,_,7.1,_,_
];
const cycC4 = [[6.75,1],[7.55,2],[8.0,3],[8.5,5],[8.9,10],[9.05,30],[9.2,70],[9.4,120],[9.65,170],[9.95,220],[10.3,270],[10.7,320],[11.1,370],[11.5,420],[11.9,450],[12.4,465],[12.9,472]];
const cycL4 = [[5.5,1],[6.3,2],[6.75,3],[7.25,5],[7.65,10],[7.8,30],[7.95,70],[8.15,120],[8.4,170],[8.7,220],[9.05,270],[9.45,320],[9.85,370],[10.25,420],[10.65,450],[11.15,465],[11.65,472]];
const cycR4 = [[8.0,1],[8.8,2],[9.25,3],[9.75,5],[10.15,10],[10.3,30],[10.45,70],[10.65,120],[10.9,170],[11.2,220],[11.55,270],[11.95,320],[12.35,370],[12.75,420],[13.15,450],[13.65,465],[14.15,472]];
const tipC4 = [[13.4,473],[14.0,474],[14.6,475]];
const tipO4 = [[12.15,473],[12.75,474],[13.35,475],[14.65,473],[15.25,474],[15.85,475]];
const lanes4 = [7, 9, 14, 24];
const hatch4 = [[[7, 425], [9, 325]], [[7, 325], [9, 225]], [[7, 228], [9, 125]], [[7, 130], [9, 30]]];
const laneText4 = [['Parking Lane', 2.95], ['Buffer', 8.0], ['Bike Lane', 11.7], ['Travel Lane', 18.95]];
const yTicks4 = [0, 100, 200, 300, 400];
const yLabels4 = [0, 100, 200, 300, 400];

// ---------- styling ----------
const FONT = '"Liberation Sans", Arial, Helvetica, sans-serif';
const SMALL = '"Open Sans", sans-serif';
const RED = '#ee1d23', BLUE = '#1f6fe3', XBLUE = '#1a60d4', GREEN = '#22e27c', CYC = '#c3ee2c';
const NONE = 'rgba(0,0,0,0)';
const SYM_X = 'path://M0,0L10,10M10,0L0,10';
const SYM_PLUS = 'path://M5,0L5,10M0,5L10,5';
const N_RT = 'Passing Vehicle Rt Tire', N_LT = 'Passing Vehicle Lt Tire',
      N_CYC = 'Cyclist (15" offset Lt & Rt)', N_DISP = 'Parked Veh Displacement', N_PARK = 'Parked Veh Rt Tire';

const panels = [
  { title: 'Clark St: 6\u2212ft Bike Lane (Scenario Y\u221204)', rt: rt1, lt: lt1, park: park1, disp: disp1,
    cycC: cycC1, cycL: cycL1, cycR: cycR1, tipC: tipC1, tipO: tipO1, lanes: lanes1, laneText: laneText1,
    yTicks: yTicks1, yLabels: yLabels1, yMin: -4.3, yMax: 140.2, top: 52, height: 286, titleY: 20, centerY: 74 },
  { title: 'Clark St: 5\u2212ft Bike Lane (Scenario Y\u221205)', rt: rt2, lt: lt2, park: park2, disp: disp2,
    cycC: cycC2, cycL: cycL2, cycR: cycR2, tipC: tipC2, tipO: tipO2, lanes: lanes2, laneText: laneText2,
    yTicks: yTicks2, yLabels: yLabels2, yMin: -9.5, yMax: 272, top: 448.3, height: 287, titleY: 418, centerY: 128 },
  { title: 'Clark St: 4\u2212ft Bike Lane (Scenario Y\u221206)', rt: rt3, lt: lt3, park: park3, disp: disp3,
    cycC: cycC3, cycL: cycL3, cycR: cycR3, tipC: tipC3, tipO: tipO3, lanes: lanes3, laneText: laneText3,
    yTicks: yTicks3, yLabels: yLabels3, yMin: -14.5, yMax: 415, top: 846.7, height: 285, titleY: 815.5, centerY: 200 },
  { title: 'Clark St: Buffered Bike Lane (Scenario Y\u221207)', rt: rt4, lt: lt4, park: park4, disp: disp4,
    cycC: cycC4, cycL: cycL4, cycR: cycR4, tipC: tipC4, tipO: tipO4, lanes: lanes4, laneText: laneText4, hatch: hatch4,
    yTicks: yTicks4, yLabels: yLabels4, yMin: -18, yMax: 494.5, top: 1244, height: 286, titleY: 1213, centerY: 220 }
];

// measurement number is the position in the array
function byMeasurement(arr) {
  const out = [];
  arr.forEach((v, i) => { if (v !== null) out.push([v, i + 1]); });
  return out;
}

const legendItems = [
  { name: N_RT, icon: 'triangle', itemStyle: { color: NONE, borderColor: RED, borderWidth: 2 } },
  { name: N_LT, icon: 'triangle', itemStyle: { color: NONE, borderColor: BLUE, borderWidth: 2 } },
  { name: N_CYC, icon: 'circle', itemStyle: { color: NONE, borderColor: CYC, borderWidth: 2 } },
  { name: N_DISP, icon: SYM_PLUS, itemStyle: { color: NONE, borderColor: GREEN, borderWidth: 2 } },
  { name: N_PARK, icon: SYM_X, itemStyle: { color: NONE, borderColor: XBLUE, borderWidth: 2 } }
];

const series = [];
panels.forEach((p, i) => {
  const ax = { xAxisIndex: i, yAxisIndex: i, silent: true };
  const N = p.rt.length;
  series.push({ ...ax, type: 'scatter', name: N_PARK, data: byMeasurement(p.park), symbol: SYM_X, symbolSize: 9,
    itemStyle: { color: NONE, borderColor: XBLUE, borderWidth: 2.2 } });
  series.push({ ...ax, type: 'scatter', name: N_DISP, data: byMeasurement(p.disp), symbol: SYM_PLUS, symbolSize: 11,
    itemStyle: { color: NONE, borderColor: GREEN, borderWidth: 2.2 } });
  [p.cycL, p.cycR].forEach(d => series.push({ ...ax, type: 'line', name: N_CYC, data: d, smooth: 0.3,
    showSymbol: false, symbol: 'none', lineStyle: { color: CYC, width: 3 } }));
  series.push({ ...ax, type: 'line', name: N_CYC, data: p.cycC, smooth: 0.3, showSymbol: false, symbol: 'none',
    lineStyle: { color: CYC, width: 8 } });
  series.push({ ...ax, type: 'scatter', name: N_CYC, data: p.tipC, symbol: 'circle', symbolSize: 8,
    itemStyle: { color: NONE, borderColor: CYC, borderWidth: 1.8 } });
  series.push({ ...ax, type: 'scatter', name: N_CYC, data: p.tipO, symbol: 'circle', symbolSize: 4,
    itemStyle: { color: NONE, borderColor: CYC, borderWidth: 1.5 } });
  series.push({ ...ax, type: 'scatter', name: N_RT, data: byMeasurement(p.rt), symbol: 'triangle', symbolSize: [12, 11],
    itemStyle: { color: NONE, borderColor: RED, borderWidth: 2.1 } });
  series.push({ ...ax, type: 'scatter', name: N_LT, data: byMeasurement(p.lt), symbol: 'triangle', symbolSize: [12, 11],
    itemStyle: { color: NONE, borderColor: BLUE, borderWidth: 2.1 } });
  series.push({ ...ax, type: 'lines', coordinateSystem: 'cartesian2d', z: 3,
    data: p.lanes.map(x => ({ coords: [[x, 0], [x, N]] })),
    lineStyle: { color: '#111', width: 2, opacity: 1 } });
  if (p.hatch) {
    series.push({ ...ax, type: 'lines', coordinateSystem: 'cartesian2d', z: 3,
      data: p.hatch.map(c => ({ coords: c })), lineStyle: { color: '#222', width: 1, opacity: 1 } });
  }
});

const option = {
  animation: false,
  backgroundColor: '#fff',
  textStyle: { fontFamily: FONT },
  title: panels.map(p => ({
    text: p.title, left: 652, top: p.titleY - 14, textAlign: 'center', padding: 0,
    textStyle: { fontSize: 26, fontWeight: 'bold', color: '#000', fontFamily: FONT }
  })),
  legend: panels.map(p => ({
    orient: 'vertical', left: 914, top: p.top + 5, selectedMode: false,
    itemWidth: 13, itemHeight: 12, itemGap: 4.7, padding: [10, 14, 13, 13],
    borderColor: '#000', borderWidth: 1.5, backgroundColor: '#fff',
    textStyle: { fontSize: 20, lineHeight: 20, color: '#000', fontFamily: FONT, padding: [0, 0, 0, 7] },
    data: legendItems
  })),
  grid: panels.map(p => ({
    left: 106, width: 1091, top: p.top, height: p.height, show: true,
    borderColor: '#000', borderWidth: 2, backgroundColor: 'transparent', containLabel: false, outerBoundsMode: 'none'
  })),
  xAxis: panels.map((p, i) => ({
    type: 'value', gridIndex: i, min: -1.45, max: 36.37, offset: 9.4,
    axisLine: { show: false, onZero: false }, splitLine: { show: false },
    axisTick: { show: true, length: 7, customValues: xTicks, lineStyle: { color: '#000', width: 1.5 } },
    axisLabel: { customValues: xTicks, margin: 18, fontSize: 21, color: '#000', fontFamily: FONT }
  })),
  yAxis: panels.map((p, i) => ({
    type: 'value', gridIndex: i, min: p.yMin, max: p.yMax, offset: 8.5,
    name: 'Measurement No.', nameLocation: 'middle', nameGap: 66,
    nameTextStyle: { fontSize: 20, color: '#000', fontFamily: FONT },
    axisLine: { show: false, onZero: false }, splitLine: { show: false },
    axisTick: { show: true, length: 7, customValues: p.yTicks, lineStyle: { color: '#000', width: 1.5 } },
    axisLabel: { customValues: p.yLabels, rotate: 90, margin: 15, fontSize: 20, color: '#000', fontFamily: FONT }
  })),
  series: series
};

const chart = echarts.init(document.getElementById('chart'), null, { renderer: 'canvas' });
chart.setOption(option);

// R-style detached axis lines and the lane annotations, placed through the axes' own scales
const graphics = [];
panels.forEach((p, i) => {
  const gx = v => chart.convertToPixel({ xAxisIndex: i }, v);
  const gy = v => chart.convertToPixel({ yAxisIndex: i }, v);
  const bottom = gy(p.yMin), top = gy(p.yMax), left = gx(-1.45);
  const line = { stroke: '#000', lineWidth: 1.5 };
  graphics.push({ type: 'line', z: 10, shape: { x1: gx(xTicks[0]), y1: bottom + 9.4, x2: gx(xTicks[xTicks.length - 1]), y2: bottom + 9.4 }, style: line });
  graphics.push({ type: 'line', z: 10, shape: { x1: left - 8.5, y1: gy(p.yTicks[0]), x2: left - 8.5, y2: gy(p.yTicks[p.yTicks.length - 1]) }, style: line });
  p.laneText.forEach(([label, xv]) => graphics.push({
    type: 'text', z: 10, x: gx(xv), y: top - 9.5,
    style: { text: label, fill: '#111', font: '13px ' + SMALL, align: 'center', verticalAlign: 'middle' }
  }));
  graphics.push({
    type: 'text', z: 10, x: gx(24.38), y: gy(p.centerY), rotation: Math.PI / 2,
    style: { text: 'Centerline', fill: '#111', font: '13px ' + SMALL, align: 'center', verticalAlign: 'middle' }
  });
  graphics.push({
    type: 'text', z: 10, x: 1186, y: bottom - 18,
    style: { text: 'Passing Vehicle Width: 7 ft', fill: '#111', font: '12px ' + SMALL, align: 'right', verticalAlign: 'middle' }
  });
});
chart.setOption({ graphic: graphics });
</script>
</body>
</html>
